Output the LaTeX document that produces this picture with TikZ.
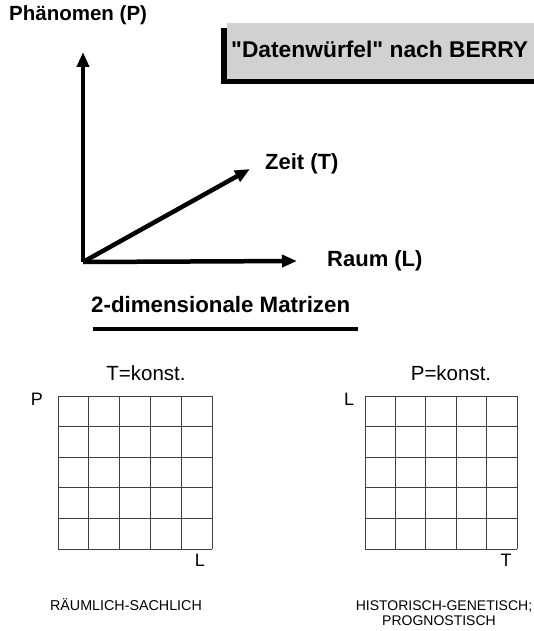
\documentclass[tikz,border=0pt]{standalone}
\usepackage{fontspec}
\setmainfont{Liberation Sans}
\newfontfamily\qfont{Liberation Sans}
\usetikzlibrary{arrows.meta}
\newcommand{\fs}[1]{\fontsize{#1}{#1}\selectfont}
\begin{document}
\begin{tikzpicture}[x=1pt,y=-1pt,
  axis/.style={line width=4.5pt,-{Triangle[length=15pt,width=12pt]}},
  blab/.style={font=\bfseries\fs{22}, inner sep=0pt},
  rlab/.style={font=\fs{20.5}, inner sep=0pt},
  sideLab/.style={font=\fs{18}, inner sep=0pt},
  caplab/.style={font=\fs{14.3}, inner sep=0pt, align=center},
  gridline/.style={line width=1pt, black!75}]
\useasboundingbox (0,0) rectangle (534,631);
\fill[white] (0,0) rectangle (534,631);
% title box
\fill[black] (221,28) rectangle (534,84);
\fill[black!18] (227,23) rectangle (534,79);
\node[font=\qfont\bfseries\fs{22.8}, inner sep=0pt, anchor=west] (title) at (231,49) {"Datenwürfel" nach BERRY};
% axes
\coordinate (O) at (83,262);
\coordinate (Ptip) at (83,52);
\coordinate (Ltip) at (297,261);
\coordinate (Ttip) at (250,169);
\draw[axis] (O) -- (Ptip);
\draw[axis] (O) -- (Ltip);
\draw[axis] (O) -- (Ttip);
\node[blab, font=\bfseries\fs{20.5}, anchor=west] (pl) at (9,15) {Phänomen (P)};
\node[blab, anchor=west] (tl) at (265,164) {Zeit (T)};
\node[blab, anchor=west] (ll) at (327,261) {Raum (L)};
% subtitle
\node[font=\bfseries\fs{22.3}, inner sep=0pt, anchor=west] (sub) at (91,305) {2-dimensionale Matrizen};
\draw[line width=4.5pt] (93,329) -- (358,329);
% left matrix
\node[rlab] (tk) at (146,373) {T=konst.};
\foreach \i in {0,...,5} {
  \draw[gridline] ({58+\i*30.8},396) -- ({58+\i*30.8},549);
  \draw[gridline] (58,{396+\i*30.6}) -- (212,{396+\i*30.6});
}
\node[sideLab] (lp) at (37,399) {P};
\node[sideLab] (ll2) at (200,560) {L};
\node[caplab] (c1) at (126,605) {RÄUMLICH-SACHLICH};
% right matrix
\node[rlab] (pk) at (451,373) {P=konst.};
\foreach \i in {0,...,5} {
  \draw[gridline] ({365+\i*30.4},396) -- ({365+\i*30.4},549);
  \draw[gridline] (365,{396+\i*30.6}) -- (517,{396+\i*30.6});
}
\node[sideLab] (rl) at (349,399) {L};
\node[sideLab] (rt) at (506,560) {T};
\node[caplab, font=\fs{14}] (c2) at (444,607) {HISTORISCH-GENETISCH;};
\node[caplab, font=\fs{14}] (c3) at (439,621) {PROGNOSTISCH};
\end{tikzpicture}
\end{document}
